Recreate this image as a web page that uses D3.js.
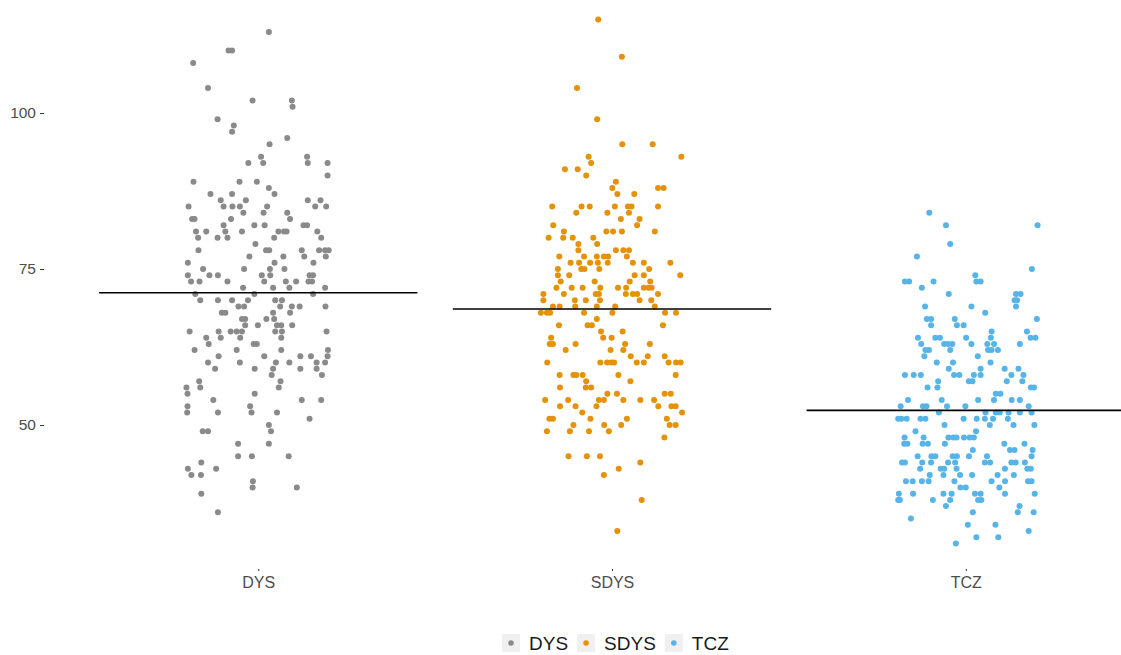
<!DOCTYPE html>
<html>
<head>
<meta charset="utf-8">
<script src="https://cdn.jsdelivr.net/npm/d3@7"></script>
<style>
  html, body { margin: 0; padding: 0; background: #ffffff; }
  svg { display: block; font-family: "Liberation Sans", Arial, Helvetica, sans-serif; }
</style>
</head>
<body>
<svg id="chart" width="1121" height="655"></svg>
<script>
// ---------------- data ----------------
const categories = ["DYS", "SDYS", "TCZ"];
const colors = ["#8a8a8a", "#E3920A", "#56B4E9"];
const yTickValues = [50, 75, 100];
const groupMeans = [71.2, 68.6, 52.35];

// [value, horizontal jitter in category units]
const dysPoints = [
  [113,0.030],[110,-0.084],[110,-0.074],[108,-0.184],[104,-0.142],[102,-0.016],[102,0.095],[101,0.097],
  [99,-0.115],[98,-0.069],[97,-0.074],[96,0.082],[95,0.032],[93,0.008],[93,0.138],
  [92,-0.028],[92,0.014],[92,0.140],[92,0.196],[90,0.196],[89,-0.183],[89,-0.053],[89,-0.004],[88,0.030],
  [87,-0.135],[87,-0.074],[87,0.046],[86,-0.106],[86,-0.035],[86,0.140],[86,0.176],
  [85,-0.197],[85,-0.098],[85,-0.073],[85,-0.052],[85,0.025],[85,0.161],[85,0.192],
  [84,-0.042],[84,0.015],[84,0.082],[83,-0.187],[83,-0.180],[83,-0.077],[83,0.090],
  [82,-0.098],[82,-0.011],[82,0.018],[82,0.128],[82,0.138],
  [81,-0.176],[81,-0.147],[81,-0.093],[81,-0.046],[81,0.057],[81,0.073],[81,0.080],[81,0.167],
  [80,-0.170],[80,-0.115],[80,-0.087],[80,0.045],[80,0.178],[79,-0.008],
  [78,-0.169],[78,0.022],[78,0.031],[78,0.123],[78,0.172],[78,0.189],[78,0.199],
  [77,-0.025],[77,0.071],[77,0.130],[77,0.191],[76,-0.199],[76,0.046],[76,0.156],
  [75,-0.156],[75,-0.040],[75,0.033],[75,0.074],
  [74,-0.199],[74,-0.138],[74,-0.114],[74,0.010],[74,0.034],[74,0.145],[74,0.155],
  [73,-0.190],[73,-0.166],[73,-0.087],[73,0.017],[73,0.078],[73,0.107],[73,0.142],[73,0.152],
  [72,-0.043],[72,0.042],[72,0.088],[72,0.189],[71,-0.178],[71,-0.011],[71,0.155],
  [70,-0.164],[70,-0.114],[70,-0.074],[70,-0.029],[70,0.048],[70,0.067],
  [69,-0.056],[69,-0.040],[69,0.062],[69,0.095],[69,0.117],[69,0.190],
  [68,-0.103],[68,-0.093],[68,0.042],[68,0.090],[67,-0.046],[67,-0.037],[67,0.023],[67,0.045],
  [66,-0.037],[66,-0.001],[66,0.053],[66,0.065],[66,0.096],
  [65,-0.194],[65,-0.112],[65,-0.078],[65,-0.061],[65,-0.046],[65,0.048],[65,0.067],[65,0.193],
  [64,-0.147],[64,-0.106],[64,-0.051],[64,0.065],[63,-0.140],[63,-0.013],[63,-0.004],
  [62,-0.180],[62,-0.061],[62,0.065],[62,0.197],[61,-0.112],[61,0.017],[61,0.119],[61,0.149],[61,0.196],
  [60,-0.142],[60,-0.052],[60,0.050],[60,0.088],[60,0.165],[60,0.189],
  [59,-0.122],[59,-0.010],[59,0.042],[59,0.119],[59,0.165],[58,0.038],[58,0.180],
  [57,-0.167],[57,0.063],[56,-0.203],[56,-0.164],[56,0.058],[55,-0.200],[55,-0.010],
  [54,-0.127],[54,0.123],[54,0.178],[53,-0.200],[53,-0.023],
  [52,-0.201],[52,-0.114],[52,-0.019],[52,0.053],[51,0.145],[50,0.030],
  [49,-0.157],[49,-0.142],[49,0.036],[47,-0.057],[47,0.030],[45,-0.057],[45,-0.018],[45,0.086],
  [44,-0.161],[43,-0.199],[43,-0.119],[42,-0.189],[42,-0.162],[41,-0.015],[40,-0.016],[40,0.109],
  [39,-0.161],[36,-0.114]
];

const sdysPoints = [
  [115,-0.039],[109,0.028],[104,-0.099],[99,-0.042],[95,0.029],[95,0.115],[93,-0.066],[93,0.196],
  [92,-0.059],[91,-0.133],[91,-0.097],[90,-0.073],[89,0.011],[88,0.001],[88,0.130],[88,0.146],
  [87,0.015],[87,0.063],[85,-0.169],[85,-0.086],[85,-0.063],[85,0.008],[85,0.045],[85,0.055],[85,0.130],
  [84,-0.101],[84,-0.013],[84,0.048],[83,0.025],[83,0.078],[82,-0.166],[82,0.071],
  [81,-0.136],[81,-0.016],[81,0.003],[81,0.028],[81,0.121],[80,-0.179],[80,-0.138],[80,-0.111],[80,-0.053],
  [79,-0.095],[79,-0.042],[78,-0.095],[78,0.011],[78,0.032],[78,0.048],
  [77,-0.149],[77,-0.079],[77,-0.043],[77,-0.023],[77,-0.011],[77,0.042],
  [76,-0.117],[76,-0.093],[76,-0.062],[76,-0.040],[76,-0.012],[76,0.059],[76,0.090],[76,0.165],
  [75,-0.153],[75,-0.087],[75,-0.078],[75,-0.036],[75,0.105],
  [74,-0.153],[74,-0.121],[74,0.064],[74,0.090],[74,0.193],[73,-0.145],[73,-0.049],[73,0.050],[73,0.108],
  [72,-0.157],[72,-0.114],[72,-0.083],[72,-0.033],[72,0.017],[72,0.040],[72,0.090],[72,0.103],[72,0.112],
  [71,-0.194],[71,-0.136],[71,-0.046],[71,-0.037],[71,0.039],[71,0.059],[71,0.071],[71,0.130],
  [70,-0.194],[70,-0.105],[70,-0.074],[70,-0.034],[70,0.078],[70,0.111],
  [69,-0.167],[69,-0.148],[69,-0.104],[69,-0.043],[69,0.009],[69,0.121],
  [68,-0.201],[68,-0.184],[68,-0.175],[68,-0.079],[68,0.001],[68,0.150],[68,0.181],[67,-0.043],
  [66,-0.150],[66,-0.069],[66,-0.057],[66,0.144],[65,-0.031],[65,0.030],[64,-0.172],[64,-0.025],[64,-0.001],
  [63,-0.176],[63,-0.167],[63,-0.103],[63,0.037],[63,0.107],[62,-0.131],[62,-0.004],[62,0.032],
  [61,0.053],[61,0.101],[61,0.149],
  [60,-0.183],[60,-0.033],[60,-0.014],[60,-0.002],[60,0.006],[60,0.070],[60,0.090],[60,0.160],[60,0.181],[60,0.194],
  [58,-0.148],[58,-0.109],[58,-0.101],[58,-0.083],[58,0.018],[58,0.180],[57,-0.073],[57,0.052],
  [56,-0.147],[56,-0.074],[56,-0.059],[55,-0.013],[55,0.014],[55,0.149],[55,0.166],
  [54,-0.189],[54,-0.124],[54,-0.037],[54,-0.023],[54,0.032],[54,0.080],[54,0.119],
  [53,-0.147],[53,-0.103],[53,-0.044],[53,0.131],[53,0.168],[53,0.180],[52,-0.084],[52,0.198],
  [51,-0.177],[51,-0.167],[51,-0.061],[51,0.042],[51,0.155],[50,-0.109],[50,-0.022],[50,0.026],[50,0.163],[50,0.180],
  [49,-0.184],[49,-0.119],[49,-0.065],[49,-0.009],[48,0.148],[45,-0.123],[45,-0.071],[45,-0.034],
  [44,0.080],[43,0.019],[42,-0.023],[38,0.084],[33,0.015]
];

const tczPoints = [
  [84,-0.103],[82,-0.056],[82,0.203],[79,-0.044],[77,-0.138],[75,0.187],[74,0.027],
  [73,-0.172],[73,-0.160],[73,-0.091],[73,0.030],[73,0.042],[72,-0.124],[71,-0.048],[71,0.142],[71,0.155],
  [70,0.138],[70,0.145],[69,-0.115],[69,0.016],[69,0.142],[68,0.055],
  [67,-0.110],[67,-0.098],[67,-0.031],[67,0.201],[66,-0.098],[66,-0.025],[66,-0.006],[65,0.073],[65,0.173],
  [64,-0.135],[64,-0.086],[64,-0.073],[64,0.001],[64,0.071],[64,0.183],[64,0.197],
  [63,-0.126],[63,-0.061],[63,-0.050],[63,-0.038],[63,0.016],[63,0.061],[63,0.080],[63,0.153],
  [62,-0.114],[62,-0.104],[62,-0.044],[62,0.063],[62,0.073],[62,0.091],[61,-0.117],[61,0.034],
  [60,-0.082],[60,-0.036],[60,0.070],[59,-0.048],[59,0.042],[59,0.110],[59,0.149],
  [58,-0.172],[58,-0.147],[58,-0.127],[58,-0.033],[58,-0.018],[58,0.023],[58,0.042],[58,0.129],[58,0.163],
  [57,-0.078],[57,0.009],[57,0.019],[57,0.116],[57,0.160],[56,-0.108],[56,-0.080],[56,0.184],[56,0.193],
  [55,0.085],[55,0.098],[54,-0.163],[54,-0.068],[54,0.035],[54,0.080],[54,0.130],[54,0.153],
  [53,-0.184],[53,-0.121],[53,-0.111],[53,-0.053],[53,-0.001],[53,0.178],
  [52,-0.076],[52,0.056],[52,0.085],[52,0.096],[52,0.121],[52,0.153],[52,0.186],
  [51,-0.191],[51,-0.182],[51,-0.167],[51,-0.128],[51,-0.114],[51,-0.006],[51,0.031],[51,0.054],[51,0.077],[51,0.119],
  [50,-0.060],[50,0.068],[50,0.135],[50,0.194],[49,-0.142],[49,0.029],
  [48,-0.173],[48,-0.119],[48,-0.049],[48,-0.035],[48,-0.026],[48,-0.005],[48,0.011],[48,0.023],
  [47,-0.174],[47,-0.165],[47,-0.122],[47,-0.107],[47,-0.059],[47,0.109],[47,0.166],
  [46,0.020],[46,0.125],[46,0.138],[46,0.189],
  [45,-0.136],[45,-0.097],[45,-0.086],[45,-0.037],[45,-0.025],[45,0.009],[45,0.060],[45,0.186],
  [44,-0.180],[44,-0.172],[44,-0.123],[44,-0.098],[44,-0.050],[44,-0.030],[44,0.054],[44,0.069],[44,0.129],[44,0.141],[44,0.167],
  [43,-0.129],[43,-0.071],[43,-0.061],[43,-0.026],[43,0.111],[43,0.174],[43,0.184],
  [42,-0.102],[42,-0.063],[42,-0.016],[42,0.018],[42,0.090],[42,0.136],
  [41,-0.169],[41,-0.150],[41,-0.124],[41,-0.105],[41,-0.032],[41,0.073],[41,0.111],[41,0.176],[41,0.186],
  [40,-0.015],[40,0.000],[40,0.095],
  [39,-0.189],[39,-0.149],[39,-0.063],[39,-0.040],[39,0.026],[39,0.042],[39,0.111],[39,0.195],
  [38,-0.191],[38,-0.186],[38,-0.093],[38,-0.044],[38,0.035],[38,0.044],[37,-0.056],[37,0.152],
  [36,0.020],[36,0.147],[36,0.192],[35,-0.155],[34,0.006],[34,0.084],[33,0.178],[32,0.030],[32,0.092],[31,-0.028]
];

const groupPoints = [dysPoints, sdysPoints, tczPoints];

// ---------------- chart ----------------
const svg = d3.select("#chart");
const x = d3.scaleLinear().domain([-0.6, 2.6]).range([46, 1178]);
const y = d3.scaleLinear().domain([50, 100]).range([425, 113]);
const color = d3.scaleOrdinal().domain(categories).range(colors);

const textColor = "#4d4d4d";

// y axis
const yAxis = svg.append("g")
  .attr("transform", "translate(44,0)")
  .call(d3.axisLeft(y).tickValues(yTickValues).tickSize(4).tickPadding(4));
yAxis.select(".domain").remove();
yAxis.selectAll(".tick line").attr("stroke", "#333333").attr("stroke-width", 1);
yAxis.selectAll(".tick text").attr("fill", textColor).style("font-size", "15.5px")
  .style("font-family", "'Liberation Sans', Arial, sans-serif");

// x axis
const xAxis = svg.append("g")
  .attr("transform", "translate(0,569)")
  .call(d3.axisBottom(x).tickValues([0, 1, 2]).tickFormat(i => categories[i]).tickSize(2).tickPadding(6));
xAxis.select(".domain").remove();
xAxis.selectAll(".tick line").attr("stroke", "#333333").attr("stroke-width", 1);
xAxis.selectAll(".tick text").attr("fill", textColor).style("font-size", "16px")
  .style("font-family", "'Liberation Sans', Arial, sans-serif");

// points
const flat = [];
groupPoints.forEach((pts, gi) => pts.forEach(p => flat.push({ g: gi, v: p[0], j: p[1] })));
svg.append("g").selectAll("circle")
  .data(flat)
  .join("circle")
  .attr("cx", d => x(d.g + d.j))
  .attr("cy", d => y(d.v))
  .attr("r", 3)
  .attr("fill", d => color(categories[d.g]));

// mean lines
svg.append("g").selectAll("line")
  .data(groupMeans)
  .join("line")
  .attr("x1", (d, i) => x(i - 0.45))
  .attr("x2", (d, i) => x(i + 0.45))
  .attr("y1", d => y(d))
  .attr("y2", d => y(d))
  .attr("stroke", "#000000")
  .attr("stroke-width", 1.6);

// legend
const legend = svg.append("g").attr("transform", "translate(502,634)");
let lx = 0;
categories.forEach((c, i) => {
  const item = legend.append("g").attr("transform", `translate(${lx},0)`);
  item.append("rect").attr("width", 18).attr("height", 18).attr("fill", "#f0f0f0");
  item.append("circle").attr("cx", 9).attr("cy", 9).attr("r", 2.8).attr("fill", colors[i]);
  const t = item.append("text").attr("x", 27).attr("y", 16)
    .attr("fill", "#1a1a1a").style("font-size", "19px").text(c);
  const w = t.node().getComputedTextLength();
  lx += 27 + w + 9;
});
</script>
</body>
</html>
